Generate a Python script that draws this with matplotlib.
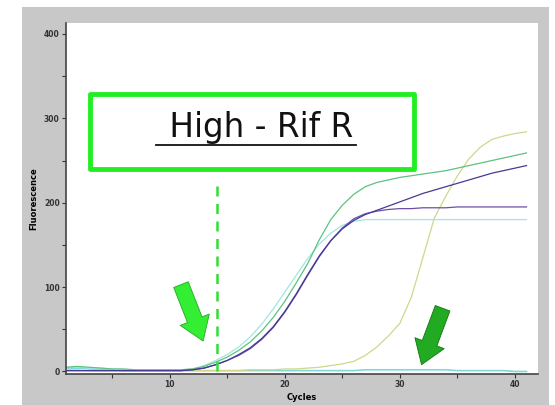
import numpy as np
import matplotlib
matplotlib.use('Agg')
import matplotlib.pyplot as plt
from matplotlib.patches import Rectangle, FancyArrowPatch

# amplification curves, fluorescence per cycle
cycles = np.arange(1, 42)
green = [5, 6, 5, 4, 3, 3, 2, 2, 2, 2,
         2, 3, 6, 11, 17, 25, 35, 48, 64, 83,
         105, 128, 156, 180, 197, 210, 219, 224, 227, 230,
         232, 234, 236, 238, 241, 244, 247, 250, 253, 256, 259]
cyan = [4, 5, 4, 4, 3, 2, 2, 1, 1, 1,
        2, 3, 7, 13, 20, 29, 41, 56, 74, 94,
        114, 134, 151, 164, 173, 178, 180, 180, 180, 180,
        180, 180, 180, 180, 180, 180, 180, 180, 180, 180, 180]
purple_dark = [1, 1, 1, 1, 1, 1, 1, 1, 1, 1,
               1, 2, 4, 8, 13, 20, 28, 39, 53, 71,
               92, 115, 137, 155, 169, 179, 186, 191, 196, 201,
               206, 211, 215, 219, 223, 227, 231, 235, 238, 241, 244]
purple = [1, 1, 1, 1, 1, 1, 1, 1, 1, 1,
          1, 2, 4, 8, 13, 19, 27, 38, 52, 70,
          91, 114, 136, 155, 170, 181, 187, 190, 192, 193,
          193, 194, 194, 194, 195, 195, 195, 195, 195, 195, 195]
yellow = [2, 2, 1, 1, 1, 1, 1, 1, 1, 1,
          1, 1, 1, 1, 1, 1, 2, 2, 2, 3,
          3, 4, 5, 7, 9, 12, 19, 29, 42, 57,
          88, 135, 182, 208, 232, 252, 266, 275, 279, 282, 284]
negative = [3, 4, 3, 2, 2, 1, 1, 1, 1, 1,
            1, 1, 1, 1, 1, 1, 1, 1, 1, 1,
            1, 1, 1, 1, 1, 1, 2, 2, 2, 2,
            2, 2, 2, 2, 1, 1, 1, 1, 1, 0, 0]

threshold_cycle = 14.1
box_text = ' High - Rif R'

fig = plt.figure(figsize=(5.55, 4.05), dpi=100)
fig.patch.set_facecolor('white')
fig.patches.append(Rectangle((22/555, 0), 527/555, 398/405, transform=fig.transFigure,
                             facecolor='#c8c8c8', edgecolor='none', zorder=-10))

ax = fig.add_axes([66/555, 31/405, 472/555, 351/405])
ax.set_facecolor('white')

ax.plot(cycles, negative, color='#80d8d8', lw=1.2)
ax.plot(cycles, yellow, color='#d2d68a', lw=0.9)
ax.plot(cycles, cyan, color='#9fe6e6', lw=0.9)
ax.plot(cycles, green, color='#5ec27e', lw=0.9)
ax.plot(cycles, purple, color='#6b4fa6', lw=0.9)
ax.plot(cycles, purple_dark, color='#443a96', lw=0.9)

# threshold marker
ax.plot([threshold_cycle, threshold_cycle], [0, 220], color='#33dd33', lw=1.8,
        ls=(0, (4, 3)))

# arrows
arrow_style = 'simple,head_width=1.5,head_length=1.1,tail_width=0.75'
ax.add_patch(FancyArrowPatch((10.9, 106), (13.0, 33), arrowstyle=arrow_style,
                             mutation_scale=15, facecolor='#33ee33', edgecolor='#22aa22', lw=0.6))
ax.add_patch(FancyArrowPatch((33.8, 78), (31.8, 5), arrowstyle=arrow_style,
                             mutation_scale=15, facecolor='#22aa22', edgecolor='#117711', lw=0.6))

# annotation box
ax.add_patch(Rectangle((3.1, 240), 28.1, 89, facecolor='white', edgecolor='#22ee22',
                       lw=3.5, joinstyle='round', zorder=5))
ax.text(17.5, 289, box_text, fontsize=23.5, ha='center', va='center', color='#111111', zorder=6)
ax.plot([8.8, 26.2], [269, 269], color='#111111', lw=1.3, zorder=6)

ax.set_xlim(1, 42)
ax.set_ylim(-3, 413)
ax.set_xticks([10, 20, 30, 40])
ax.set_xticks([5, 15, 25, 35], minor=True)
ax.set_yticks([0, 100, 200, 300, 400])
ax.set_yticks([50, 150, 250, 350], minor=True)
ax.tick_params(which='both', direction='out', length=3, width=0.8, colors='#333333',
               labelsize=5.5, pad=1.5)
for lab in ax.get_xticklabels() + ax.get_yticklabels():
    lab.set_fontweight('bold')
ax.spines['top'].set_visible(False)
ax.spines['right'].set_visible(False)
ax.spines['left'].set_color('#444444')
ax.spines['bottom'].set_color('#444444')
ax.spines['left'].set_linewidth(1.2)
ax.spines['bottom'].set_linewidth(1.2)
ax.set_xlabel('Cycles', fontsize=6, fontweight='bold', labelpad=3)
ax.set_ylabel('Fluorescence', fontsize=6, fontweight='bold', labelpad=4)

fig.savefig('out.png', dpi=100)
